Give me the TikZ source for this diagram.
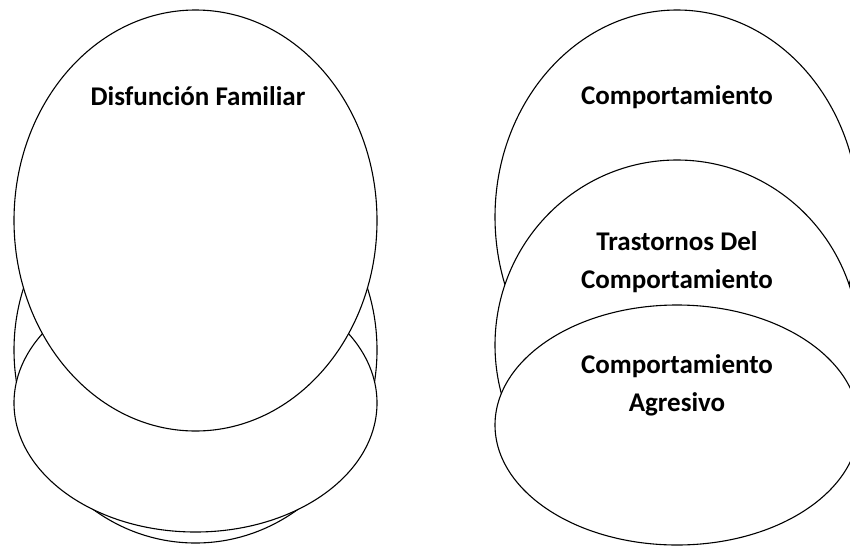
\documentclass[tikz,border=0pt]{standalone}
\usepackage{fontspec}
\setmainfont{Carlito}
\usetikzlibrary{shapes.geometric}

\begin{document}
\begin{tikzpicture}[x=1pt, y=-1pt,
        oval/.style 2 args={draw, ellipse, fill=white, line width=1.1pt, inner sep=0pt, minimum width=#1pt, minimum height=#2pt},
        titulo/.style={font=\fontsize{27}{38}\selectfont\bfseries, align=center, anchor=base, inner sep=0pt},
        font=\bfseries]
        %Bildbereich
        \useasboundingbox (0,0) rectangle (850,546);
        \clip (0,0) rectangle (850,546);
        % Gruppe links
        \node[oval={363}{386}] (fam2) at (195.5,350) {};
        \node[oval={363}{258}] (fam3) at (195.5,403) {};
        \node[oval={363}{421}] (fam1) at (195.5,220.5) {};
        % Gruppe rechts
        \node[oval={364}{414}] (comp) at (677,217) {};
        \node[oval={364}{370}] (tras) at (677,345) {};
        \node[oval={364}{240}] (agre) at (677,425) {};
        % Beschriftung (base = letzte Zeile)
        \node[titulo] (tfam) at (198,105) {Disfunción Familiar};
        \node[titulo] (tcomp) at (677,104) {Comportamiento};
        \node[titulo] (ttras) at (677,288) {Trastornos Del\\Comportamiento};
        \node[titulo] (tagre) at (677,411) {Comportamiento\\Agresivo};
\end{tikzpicture}
\end{document}
